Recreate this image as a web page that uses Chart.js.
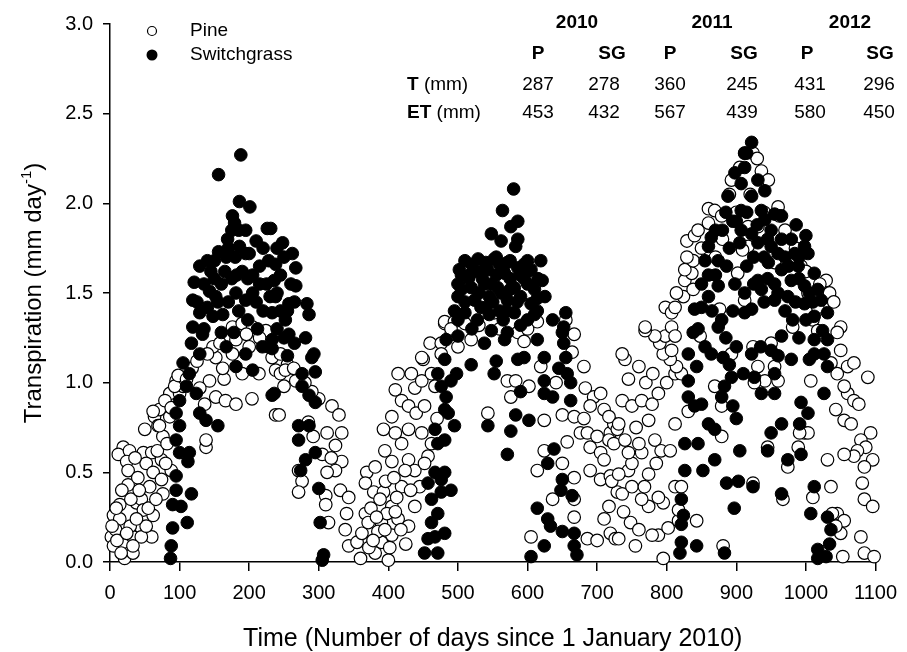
<!DOCTYPE html>
<html>
<head>
<meta charset="utf-8">
<script src="https://cdn.jsdelivr.net/npm/chart.js@4.4.0/dist/chart.umd.min.js"></script>
<style>
  body { margin: 0; background: #fff; }
  #wrap { position: relative; width: 907px; height: 652px; }
</style>
</head>
<body>
<div id="wrap"><canvas id="chart"></canvas></div>
<script>
// [day since 1 Jan 2010, transpiration mm/day]
const pine2010 = [
  [19,0.64],[12,0.60],[28,0.62],[24,0.56],[26,0.51],[26,0.43],[48,0.61],[60,0.61],[52,0.55],[74,0.57],
  [62,0.50],[74,0.46],[88,0.51],[76,0.38],[50,0.74],[64,0.81],[71,0.85],[86,0.94],[95,1.01],[79,0.90],
  [69,0.76],[86,0.81],[76,0.70],[14,0.32],[5,0.26],[14,0.24],[2,0.14],[5,0.09],[21,0.02],[33,0.05],
  [19,0.11],[33,0.14],[43,0.20],[38,0.33],[45,0.35],[62,0.26],[60,0.14],[45,0.14],[29,0.20],[52,0.20],
  [33,0.09],[48,0.29],[138,0.64],[138,0.68],[136,0.88],[152,0.92],[166,0.90],[181,0.88],[204,0.91],[238,0.82],
  [164,1.02],[143,1.01],[129,0.97],[162,1.08],[152,1.14],[148,1.20],[167,1.24],[176,1.31],[190,1.33],[205,1.31],
  [224,1.29],[214,1.05],[238,1.07],[190,1.05],[181,1.24],[200,1.20],[176,1.16],[233,1.14],[100,0.94],[105,0.98],
  [93,0.98],[88,0.86],[62,0.84],[71,0.76],[8,0.18],[10,0.12],[16,0.05],[24,0.16],[38,0.24],[55,0.30],
  [57,0.42],[40,0.47],[68,0.62],[82,0.66],[98,1.04],[110,1.02],[118,1.08],[125,1.12],[140,1.16],[158,1.22],
  [196,1.27],[215,1.25],[228,1.20],[245,1.16],[255,1.10],
  [3,0.20],[9,0.30],[17,0.40],[30,0.35],[36,0.58],[42,0.40],[66,0.35],[80,0.55],
  [243,0.82],[245,1.05],[252,1.07],[264,1.08],[250,0.98],[267,1.01],[300,0.91],[319,0.87],[329,0.82],[333,0.72],
  [324,0.65],[312,0.72],[333,0.56],[324,0.51],[271,0.51],[276,0.45],[271,0.39],[312,0.50],[310,0.37],[331,0.40],
  [343,0.36],[310,0.32],[314,0.22],[340,0.27],[338,0.18],[343,0.09],[360,0.02],[355,0.11],[362,0.16],
  [285,0.78],[292,0.70],[305,0.60],[318,0.58],[290,0.95],[280,1.00]
];
const pine2011 = [
  [367,0.27],[369,0.50],[381,0.53],[367,0.44],[379,0.39],[393,0.39],[388,0.35],[405,0.31],[390,0.22],[405,0.15],
  [400,0.01],[381,0.05],[371,0.22],[390,0.11],[414,0.24],[429,0.20],[438,0.31],[419,0.42],[395,0.62],[393,0.74],
  [405,0.81],[414,1.05],[410,0.96],[419,0.90],[429,0.87],[440,0.83],[452,0.87],[448,0.72],[419,0.66],[410,0.72],
  [429,0.74],[429,0.57],[438,0.51],[424,0.51],[405,0.56],[457,0.59],[462,0.66],[452,0.55],[438,0.97],[448,1.01],
  [450,1.13],[460,1.22],[448,1.14],[433,1.05],[462,1.05],[467,0.98],[476,1.22],[481,1.33],[476,1.16],
  [481,1.34],[495,1.34],[510,1.33],[490,1.27],[519,1.24],[500,1.20],[552,1.39],[586,1.28],[595,1.23],[614,1.34],
  [655,1.35],[667,1.27],[664,1.17],[681,1.09],[619,1.09],[571,1.01],[583,1.01],[602,0.98],[576,0.92],[641,1.00],
  [650,0.82],[667,0.81],[681,0.80],[543,0.83],[624,0.79],[683,0.97],[695,0.92],[705,0.94],[690,0.87],[710,0.85],
  [676,0.72],[686,0.72],[700,0.70],[719,0.72],[724,0.77],[657,0.67],[690,0.64],[705,0.61],[710,0.57],[717,0.68],
  [729,0.74],[614,0.51],[624,0.62],[650,0.55],[667,0.47],[690,0.51],[705,0.46],[719,0.48],[729,0.39],[636,0.35],
  [667,0.35],[667,0.25],[710,0.24],[717,0.31],[719,0.16],[605,0.14],[686,0.13],[700,0.12],[726,0.13],
  [372,0.08],[385,0.17],[398,0.27],[412,0.36],[425,0.10],[445,0.42],[470,0.80],[490,1.30],[530,1.32],[560,1.30],
  [600,1.30],[717,0.81],[721,0.45],[724,0.66],
  [375,0.30],[383,0.25],[395,0.18],[402,0.08],[410,0.28],[418,0.18],[432,0.40],[378,0.12],[396,0.45],[408,0.47]
];
const pine2012 = [
  [795,0.02],[755,0.09],[731,0.13],[788,0.15],[779,0.15],[802,0.19],[843,0.23],[881,0.09],[817,0.23],[817,0.29],
  [774,0.31],[795,0.33],[788,0.36],[764,0.35],[736,0.38],[750,0.42],[812,0.42],[821,0.42],[774,0.49],[745,0.51],
  [731,0.49],[750,0.55],[764,0.61],[740,0.68],[760,0.66],[783,0.68],[745,0.61],[879,0.70],[812,0.77],[831,0.84],
  [774,0.79],[731,0.77],[736,0.90],[750,0.87],[764,0.90],[779,0.88],[788,0.94],[879,0.87],[869,0.98],[760,1.09],
  [740,1.13],[736,1.16],[800,1.00],[812,1.05],[821,1.05],[814,1.09],[805,1.13],[795,1.16],[790,1.22],[807,1.18],
  [798,1.26],[783,1.26],[769,1.29],[769,1.31],[807,1.31],[812,1.26],[893,1.16],[848,1.26],[798,1.42],[807,1.39],
  [812,1.42],[824,1.48],[814,1.50],[826,1.57],[836,1.61],[838,1.52],[826,1.63],[829,1.79],[840,1.82],[838,1.68],
  [829,1.70],[845,1.85],[860,1.89],[860,1.97],[869,1.96],[879,1.93],[893,2.13],[912,2.28],[912,1.46],[917,1.76],
  [902,1.61],[876,1.41],
  [738,0.28],[748,0.22],[760,0.18],[768,0.42],[785,0.55],[792,0.62],[805,0.62],[756,0.75],[770,1.00],[780,1.05],
  [745,1.02],
  [924,2.28],[936,2.18],[946,2.13],[960,1.98],[962,1.93],[917,1.87],[931,1.87],[909,1.74],[955,1.67],[993,1.65],
  [1029,1.57],[1034,1.50],[1003,1.50],[1017,1.42],[981,1.31],[1010,1.35],[1050,1.31],[1045,1.28],[1017,1.29],[1050,1.18],
  [1036,1.11],[1007,1.01],[1045,1.05],[1060,1.09],[1069,1.11],[1089,1.03],[1060,0.94],[1069,0.90],[1055,0.98],[1076,0.88],
  [1043,0.85],[1055,0.79],[1065,0.77],[1093,0.72],[1079,0.68],[1086,0.64],[1074,0.62],[1069,0.59],[1055,0.60],[1096,0.57],
  [1084,0.53],[1081,0.44],[1084,0.35],[1096,0.31],[1031,0.57],[1036,0.42],[1010,0.36],[998,0.72],[1003,0.72],[991,0.72],
  [989,0.64],[974,0.53],[967,0.35],[924,0.44],[945,0.64],[960,1.01],[941,1.01],[926,1.00],[931,1.09],[955,1.09],
  [950,1.22],[924,1.20],[1045,0.27],[1055,0.23],[1050,0.16],[1079,0.14],[1084,0.05],[1098,0.03],[1053,0.03],[1038,0.27],
  [1043,0.20],[900,1.95],[890,2.05],[920,2.05],[940,1.95],[970,1.85],[985,1.75],[1000,1.62],[1020,1.55],[1040,1.45],
  [850,1.75],[870,1.70],[880,1.80],[905,2.20],[930,2.25]
];

const grass2010 = [
  [188,2.27],[156,2.16],[186,2.01],[201,1.98],[176,1.93],[179,1.89],[195,1.85],[226,1.86],[169,1.80],[156,1.73],
  [129,1.65],[150,1.68],[167,1.70],[186,1.76],[210,1.79],[121,1.56],[119,1.46],[143,1.51],[152,1.48],[181,1.50],
  [195,1.46],[129,1.39],[148,1.37],[162,1.38],[119,1.31],[117,1.22],[133,1.27],[129,1.16],[105,1.11],[114,1.05],
  [110,0.98],[124,0.94],[100,0.90],[95,0.83],[129,0.83],[138,0.79],[155,0.76],[100,0.76],[95,0.68],[100,0.61],
  [114,0.61],[112,0.56],[95,0.48],[95,0.40],[117,0.38],[90,0.32],[102,0.31],[111,0.22],[90,0.19],[88,0.09],
  [87,0.02],[181,1.09],[205,1.07],[233,0.93],[167,1.20],[195,1.16],[219,1.20],[233,1.24],
  [231,1.86],[248,1.78],[262,1.72],[267,1.64],[238,1.66],[236,1.57],[267,1.54],[238,1.48],[257,1.44],[283,1.44],
  [286,1.38],[233,1.39],[252,1.35],[257,1.27],[281,1.25],[293,1.16],[290,1.14],[295,1.06],[276,1.05],[233,1.19],
  [236,0.94],[276,0.98],[286,0.93],[295,0.89],[271,0.76],[286,0.76],[271,0.68],[295,0.61],[281,0.57],[274,0.51],
  [300,0.41],[302,0.22],[307,0.04],[305,0.01],
  [200,1.72],[215,1.65],[225,1.55],[205,1.60],[190,1.62],[175,1.58],[160,1.55],[170,1.45],[185,1.40],[210,1.45],
  [220,1.40],[240,1.30],[250,1.25],[140,1.42],[135,1.55],[145,1.62],[220,1.75],[245,1.60],[260,1.55],[212,1.30],
  [198,1.35],[178,1.28],[160,1.28],[255,1.15],[265,1.22],[245,1.40],[185,1.85],[170,1.75],
  [125,1.45],[135,1.30],[155,1.45],[165,1.62],[180,1.70],[195,1.72],[205,1.50],[215,1.55],[230,1.48],[240,1.50],
  [250,1.70],[255,1.40],[265,1.45],[228,1.68],[198,1.58],[182,1.60],[150,1.58],[140,1.68],[175,1.85],[240,1.75]
];
const grass2011 = [
  [471,1.05],[476,0.98],[481,0.85],[467,0.74],[471,0.66],[467,0.50],[476,0.46],[457,0.44],[462,0.35],[471,0.27],
  [462,0.22],[457,0.13],[452,0.05],[467,0.14],[476,0.39],
  [580,2.08],[564,1.96],[586,1.90],[576,1.87],[548,1.83],[562,1.79],[586,1.80],[583,1.76],[619,1.68],[510,1.68],
  [529,1.69],[552,1.69],[571,1.67],[595,1.66],[502,1.63],[519,1.61],[543,1.63],[567,1.61],[586,1.64],[605,1.63],
  [621,1.57],[500,1.55],[519,1.53],[538,1.55],[557,1.53],[581,1.53],[600,1.55],[500,1.48],[524,1.46],[545,1.48],
  [571,1.46],[590,1.48],[614,1.47],[495,1.40],[510,1.39],[533,1.42],[560,1.40],[581,1.39],[614,1.40],[600,1.35],
  [655,1.39],[636,1.35],[652,1.31],[548,1.29],[571,1.28],[483,1.24],[500,1.26],[538,1.22],[567,1.24],[614,1.24],
  [652,1.22],[655,1.14],[595,1.14],[586,1.13],[624,1.14],[519,1.10],[555,1.12],[552,1.05],[657,1.05],[662,1.00],
  [624,1.01],[590,0.95],[624,0.94],[636,0.92],[662,0.90],[583,0.82],[602,0.79],[543,0.76],[576,0.73],[571,0.60],
  [638,0.63],[629,0.55],[650,0.46],[648,0.40],[664,0.37],[614,0.30],[629,0.24],[633,0.20],[650,0.17],[667,0.16],
  [624,0.09],[605,0.03],[671,0.04],[667,0.09],[490,0.40],[481,0.16],[471,0.05],[481,0.50],[481,0.68],[495,0.76],
  [486,0.83],[490,1.01],[481,1.13],[498,1.05],[483,0.92],
  [515,1.58],[530,1.62],[555,1.60],[575,1.58],[595,1.58],[610,1.52],[505,1.52],[530,1.50],[550,1.45],[585,1.45],
  [605,1.44],[528,1.35],[545,1.38],[565,1.35],[590,1.32],[540,1.67],[560,1.66],[625,1.48],[650,1.28],[645,1.08],
  [505,1.60],[520,1.66],[535,1.58],[548,1.55],[562,1.50],[575,1.52],[590,1.60],[600,1.62],[615,1.58],[510,1.45],
  [540,1.42],[570,1.40],[555,1.70],[575,1.68],[600,1.68],[610,1.38],[520,1.30],[500,1.35]
];
const grass2012 = [
  [819,0.05],[821,0.11],[843,0.09],[883,0.05],[821,0.21],[824,0.26],[821,0.35],[826,0.51],[852,0.51],[869,0.57],
  [826,0.66],[845,0.66],[860,0.77],[869,0.74],[831,0.92],[840,0.87],[850,0.88],[831,1.01],[843,1.09],[831,1.16],
  [864,1.16],[881,1.14],[883,0.98],[893,1.03],[895,0.87],[879,0.92],[838,1.28],[840,1.41],[850,1.42],[874,1.31],
  [879,1.35],[874,1.54],[860,1.48],[855,1.68],[864,1.81],[860,1.76],[874,1.68],[886,1.65],[898,1.55],[888,2.04],
  [898,2.17],[912,2.28],
  [922,2.34],[915,2.28],[912,2.20],[907,2.11],[931,2.13],[941,2.07],[922,2.04],[907,1.96],[936,1.96],[955,1.94],
  [941,1.91],[965,1.93],[986,1.88],[922,1.83],[907,1.85],[931,1.78],[950,1.76],[979,1.80],[998,1.76],[984,1.72],
  [1003,1.72],[946,1.67],[965,1.63],[989,1.65],[1012,1.61],[931,1.57],[955,1.55],[979,1.57],[998,1.54],[1017,1.52],
  [912,1.50],[936,1.52],[955,1.46],[974,1.48],[1022,1.46],[998,1.44],[922,1.41],[912,1.39],[1031,1.39],[1012,1.37],
  [1024,1.29],[981,1.35],[965,1.26],[1012,1.24],[1031,1.24],[950,1.18],[922,1.16],[1012,1.16],[1026,1.16],[979,1.13],
  [1005,1.13],[1031,1.09],[955,1.05],[926,1.03],[936,0.94],[955,0.94],[1026,0.94],[993,0.89],[1003,0.83],[965,0.77],
  [991,0.77],[950,0.72],[945,0.62],[974,0.57],[993,0.60],[924,0.42],[965,0.38],[1012,0.42],[1007,0.27],[1031,0.25],
  [1036,0.18],[1034,0.10],[1017,0.02],[1029,0.03],[1017,0.07],
  [903,0.45],[905,0.62],[900,0.80],[886,0.44],[897,0.30],
  [900,1.90],[915,1.95],[930,1.88],[945,1.80],[960,1.72],[970,1.70],[990,1.58],[960,1.50],[940,1.45],[1005,1.50],
  [870,1.60],[880,1.85],[890,1.75],[895,1.40],
  [905,1.78],[915,1.65],[925,1.70],[940,1.70],[950,1.85],[965,1.80],[975,1.65],[990,1.70],[1000,1.82],[985,1.45],
  [970,1.40],[1010,1.45],[925,1.55],[945,1.58],[895,1.90],[885,1.95],[870,1.85],[860,1.60],[850,1.55],[845,1.30],
  [855,1.20],[865,1.40],[885,1.25],[890,1.10],[900,1.20],[910,1.05],[935,1.20],[960,1.15],[990,1.25],[1000,1.35]
];

// inset table
const years = ["2010", "2011", "2012"];
const columns = ["P", "SG", "P", "SG", "P", "SG"];
const tValues = [287, 278, 360, 245, 431, 296];
const etValues = [453, 432, 567, 439, 580, 450];

const FONT = "'Liberation Sans', Arial, Helvetica, sans-serif";
const toXY = (arr) => arr.map(([x, y]) => ({ x, y }));

const overlay = {
  id: "overlay",
  afterDraw(chart) {
    const ctx = chart.ctx;
    ctx.save();
    ctx.fillStyle = "#000";
    ctx.strokeStyle = "#000";

    // legend
    ctx.lineWidth = 1.2;
    ctx.beginPath();
    ctx.arc(152, 31, 4.5, 0, Math.PI * 2);
    ctx.fillStyle = "#fff";
    ctx.fill();
    ctx.stroke();
    ctx.fillStyle = "#000";
    ctx.beginPath();
    ctx.arc(152, 55, 5.5, 0, Math.PI * 2);
    ctx.fill();
    ctx.font = "19px " + FONT;
    ctx.textAlign = "left";
    ctx.textBaseline = "middle";
    ctx.fillText("Pine", 190, 31);
    ctx.fillText("Switchgrass", 190, 55);

    // table
    const yearX = [577, 712, 850];
    const colX = [538, 612, 670, 744, 807, 880];
    const valX = [538, 604, 670, 742, 810, 879];
    ctx.textAlign = "center";
    ctx.font = "bold 19px " + FONT;
    years.forEach((t, i) => ctx.fillText(t, yearX[i], 23));
    columns.forEach((t, i) => ctx.fillText(t, colX[i], 54));
    ctx.font = "19px " + FONT;
    tValues.forEach((v, i) => ctx.fillText(String(v), valX[i], 85));
    etValues.forEach((v, i) => ctx.fillText(String(v), valX[i], 113));
    ctx.textAlign = "left";
    [["T", 85], ["ET", 113]].forEach(([lab, y]) => {
      ctx.font = "bold 19px " + FONT;
      ctx.fillText(lab, 407, y);
      const w = ctx.measureText(lab).width;
      ctx.font = "19px " + FONT;
      ctx.fillText(" (mm)", 407 + w, y);
    });

    // y axis title with superscript
    ctx.translate(32, 293);
    ctx.rotate(-Math.PI / 2);
    ctx.textBaseline = "alphabetic";
    const main = "Transpiration (mm day";
    const sup = "-1";
    const close = ")";
    ctx.font = "24px " + FONT;
    const w1 = ctx.measureText(main).width;
    const w3 = ctx.measureText(close).width;
    ctx.font = "15px " + FONT;
    const w2 = ctx.measureText(sup).width;
    let x = -(w1 + w2 + w3) / 2;
    ctx.font = "24px " + FONT;
    ctx.fillText(main, x, 9);
    ctx.font = "15px " + FONT;
    ctx.fillText(sup, x + w1, -1);
    ctx.font = "24px " + FONT;
    ctx.fillText(close, x + w1 + w2, 9);
    ctx.restore();
  }
};

new Chart(document.getElementById("chart"), {
  type: "scatter",
  data: {
    datasets: [
      {
        label: "Switchgrass",
        data: toXY([...grass2010, ...grass2011, ...grass2012]),
        backgroundColor: "#000",
        borderColor: "#000",
        borderWidth: 1,
        pointRadius: 6.3,
        pointHoverRadius: 6.3,
        clip: false,
        order: 0
      },
      {
        label: "Pine",
        data: toXY([...pine2010, ...pine2011, ...pine2012]),
        backgroundColor: "#fff",
        borderColor: "#000",
        borderWidth: 1.2,
        pointRadius: 6.3,
        pointHoverRadius: 6.3,
        clip: false,
        order: 1
      }
    ]
  },
  options: {
    responsive: true,
    maintainAspectRatio: false,
    animation: false,
    layout: { padding: { left: 0, right: 30, top: 24, bottom: 0 } },
    plugins: { legend: { display: false }, tooltip: { enabled: false } },
    scales: {
      x: {
        type: "linear",
        min: 0,
        max: 1100,
        ticks: {
          stepSize: 100,
          color: "#000",
          padding: 10,
          font: { family: FONT, size: 20 },
          maxRotation: 0,
          callback: (v) => String(v)
        },
        grid: { drawOnChartArea: false, drawTicks: true, tickLength: 9, color: "#000", lineWidth: 1.5 },
        border: { display: true, color: "#000", width: 1.5 },
        title: {
          display: true,
          text: "Time (Number of days since 1 January 2010)",
          color: "#000",
          font: { family: FONT, size: 25, lineHeight: 1 },
          padding: { top: 0, bottom: 0 }
        },
        afterFit(scale) { scale.height = 90; }
      },
      y: {
        min: 0,
        max: 3,
        ticks: {
          stepSize: 0.5,
          color: "#000",
          padding: 10,
          font: { family: FONT, size: 20 },
          callback: (v) => v.toFixed(1)
        },
        grid: { drawOnChartArea: false, drawTicks: true, tickLength: 7, color: "#000", lineWidth: 1.5 },
        border: { display: true, color: "#000", width: 1.5 },
        afterFit(scale) { scale.width = 110; }
      }
    }
  },
  plugins: [overlay]
});
</script>
</body>
</html>
